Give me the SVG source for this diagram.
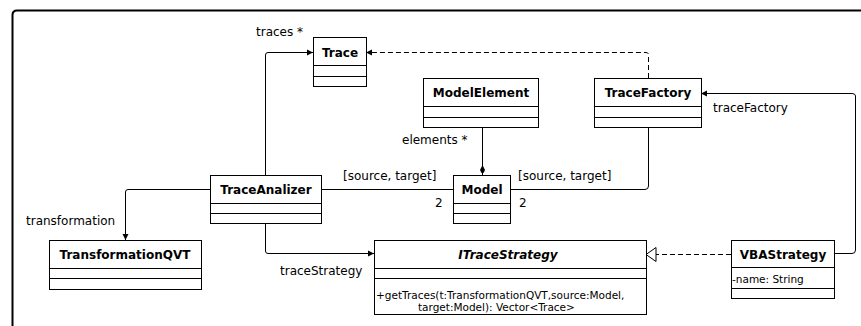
<svg xmlns="http://www.w3.org/2000/svg" width="861" height="326" viewBox="0 0 861 326">
<style>
.box{fill:#fff;stroke:#000;stroke-width:1}
.ln{fill:none;stroke:#000;stroke-width:1}
.dash{fill:none;stroke:#000;stroke-width:1;stroke-dasharray:5 3}
.name{font-family:"DejaVu Sans",sans-serif;font-size:12px;font-weight:bold;text-anchor:middle;fill:#000}
.lbl{font-family:"DejaVu Sans",sans-serif;font-size:12px;fill:#000}
.mem{font-family:"DejaVu Sans",sans-serif;font-size:10.5px;fill:#000}
</style>
<defs>
<marker id="arr" markerWidth="7" markerHeight="7" refX="6" refY="3.5" orient="auto" markerUnits="userSpaceOnUse">
<path d="M0,0.5 L6,3.5 L0,6.5 Z" fill="#000"/>
</marker>
<marker id="tri" markerWidth="12" markerHeight="16" refX="11" refY="7" orient="auto" markerUnits="userSpaceOnUse">
<path d="M1,0 L11,7 L1,14 Z" fill="#fff" stroke="#000" stroke-width="1"/>
</marker>
<marker id="dia" markerWidth="8" markerHeight="12" refX="10" refY="3" orient="auto" markerUnits="userSpaceOnUse">
<path d="M0,3 L5,0.5 L10,3 L5,5.5 Z" fill="#000"/>
</marker>
</defs>
<rect width="861" height="326" fill="#fff"/>
<path d="M12.5,326 L12.5,15 Q12.5,10.5 17,10.5 L861,10.5" fill="none" stroke="#000" stroke-width="2"/>

<g id="connectors">
<path class="ln" d="M265.5,175 L265.5,55 Q265.5,52.5 268,52.5 L313,52.5" marker-end="url(#arr)"/>
<path class="dash" d="M648.5,78 L648.5,55 Q648.5,52.5 646,52.5 L366,52.5" marker-end="url(#arr)"/>
<path class="ln" d="M834,253.5 L852,253.5 Q855.5,253.5 855.5,250 L855.5,96 Q855.5,93.5 852,93.5 L701,93.5" marker-end="url(#arr)"/>
<path class="ln" d="M482.5,127 L482.5,175" marker-end="url(#dia)"/>
<path class="ln" d="M321,189.5 L453,189.5"/>
<path class="ln" d="M510,189.5 L645,189.5 Q648.5,189.5 648.5,186 L648.5,127"/>
<path class="ln" d="M210,189.5 L128,189.5 Q125.5,189.5 125.5,192 L125.5,240" marker-end="url(#arr)"/>
<path class="ln" d="M265.5,223 L265.5,251 Q265.5,253.5 268,253.5 L374,253.5" marker-end="url(#arr)"/>
<path class="dash" d="M731,254.5 L646,254.5" marker-end="url(#tri)"/>
<text class="lbl" x="256" y="36">traces *</text>
<text class="lbl" x="713" y="112">traceFactory</text>
<text class="lbl" x="402" y="144">elements *</text>
<text class="lbl" x="343" y="180">[source, target]</text>
<text class="lbl" x="518" y="180">[source, target]</text>
<text class="lbl" x="435" y="207">2</text>
<text class="lbl" x="519" y="207">2</text>
<text class="lbl" x="26" y="225">transformation</text>
<text class="lbl" x="280" y="275">traceStrategy</text>
</g>

<g id="Trace">
<rect class="box" x="313.5" y="37.5" width="53" height="49"/>
<path class="ln" d="M313.5,65.5 H366.5 M313.5,76.5 H366.5"/>
<text class="name" x="340" y="57">Trace</text>
</g>

<g id="ModelElement">
<rect class="box" x="423.5" y="78.5" width="115" height="49"/>
<path class="ln" d="M423.5,106.5 H538.5 M423.5,117.5 H538.5"/>
<text class="name" x="481" y="97">ModelElement</text>
</g>

<g id="TraceFactory">
<rect class="box" x="594.5" y="78.5" width="107" height="49"/>
<path class="ln" d="M594.5,106.5 H701.5 M594.5,117.5 H701.5"/>
<text class="name" x="648" y="97">TraceFactory</text>
</g>

<g id="TraceAnalizer">
<rect class="box" x="210.5" y="175.5" width="111" height="48"/>
<path class="ln" d="M210.5,203.5 H321.5 M210.5,213.5 H321.5"/>
<text class="name" x="266" y="194">TraceAnalizer</text>
</g>

<g id="Model">
<rect class="box" x="453.5" y="175.5" width="57" height="48"/>
<path class="ln" d="M453.5,203.5 H510.5 M453.5,213.5 H510.5"/>
<text class="name" x="482" y="194">Model</text>
</g>

<g id="TransformationQVT">
<rect class="box" x="49.5" y="240.5" width="152" height="49"/>
<path class="ln" d="M49.5,268.5 H201.5 M49.5,278.5 H201.5"/>
<text class="name" x="125" y="259">TransformationQVT</text>
</g>

<g id="ITraceStrategy">
<rect class="box" x="374.5" y="240.5" width="272" height="74"/>
<path class="ln" d="M374.5,268.5 H646.5 M374.5,278.5 H646.5"/>
<text class="name" x="508" y="259" font-style="italic">ITraceStrategy</text>
<text class="mem" x="376" y="299">+getTraces(t:TransformationQVT,source:Model,</text>
<text class="mem" x="418" y="311">target:Model): Vector&lt;Trace&gt;</text>
</g>

<g id="VBAStrategy">
<rect class="box" x="731.5" y="240.5" width="103" height="58"/>
<path class="ln" d="M731.5,267.5 H834.5 M731.5,288.5 H834.5"/>
<text class="name" x="783" y="259">VBAStrategy</text>
<text class="mem" x="732" y="283" font-size="11">-name: String</text>
</g>
</svg>
